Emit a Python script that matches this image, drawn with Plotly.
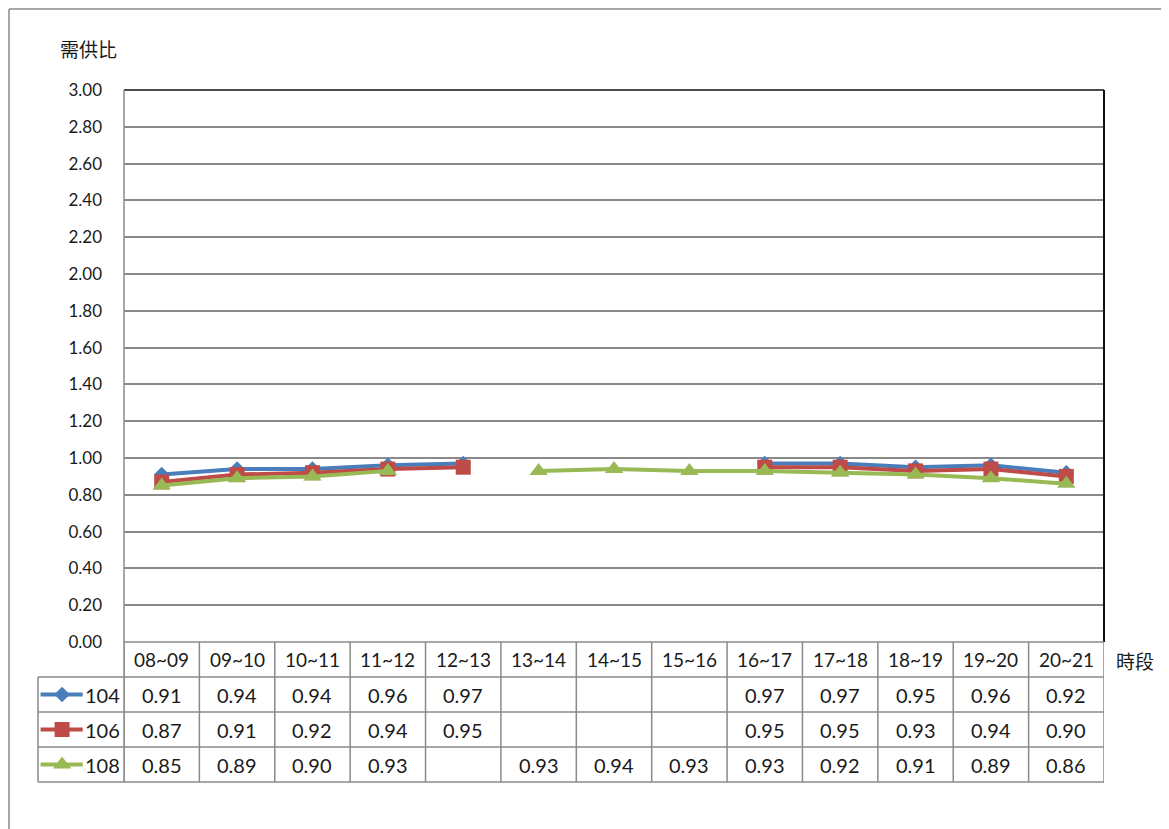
import plotly.graph_objects as go

# ---------------- data ----------------
categories = ["08~09", "09~10", "10~11", "11~12", "12~13", "13~14", "14~15",
              "15~16", "16~17", "17~18", "18~19", "19~20", "20~21"]
series_names = ["104", "106", "108"]
s104 = [0.91, 0.94, 0.94, 0.96, 0.97, None, None, None, 0.97, 0.97, 0.95, 0.96, 0.92]
s106 = [0.87, 0.91, 0.92, 0.94, 0.95, None, None, None, 0.95, 0.95, 0.93, 0.94, 0.90]
s108 = [0.85, 0.89, 0.90, 0.93, None, 0.93, 0.94, 0.93, 0.93, 0.92, 0.91, 0.89, 0.86]
y_ticks = [0.0, 0.2, 0.4, 0.6, 0.8, 1.0, 1.2, 1.4, 1.6, 1.8, 2.0, 2.2, 2.4, 2.6, 2.8, 3.0]
y_title = "需供比"
x_title = "時段"

series_values = [s104, s106, s108]
colors = ["#4A7EBB", "#BE4B48", "#98B954"]
symbols = ["diamond", "square", "triangle-up"]
msizes = [12, 15, 16]

W, H = 1169, 829
OFF = 8  # page body margin
FONT = "Lato, 'Noto Sans CJK TC', sans-serif"
CJK = "'Noto Sans CJK TC', sans-serif"
GRID = "#8A8A8A"
TXT = "#1a1a1a"


def px_x(p):
    return (p - OFF) / W


def px_y(p):
    return 1 - (p - OFF) / H


plot_l, plot_r, plot_t, plot_b = 124, 1104, 90, 642
row_h = 35
tab_l = 38
rows_y = [plot_b + row_h * (i + 1) for i in range(4)]  # bottoms of header + 3 rows

fig = go.Figure()

for name, vals, c, sym, ms in zip(series_names, series_values, colors, symbols, msizes):
    fig.add_trace(go.Scatter(
        x=categories, y=vals, name=name, mode="lines+markers",
        line=dict(color=c, width=4),
        marker=dict(symbol=sym, size=ms, color=c),
        connectgaps=False, showlegend=False, xaxis="x", yaxis="y",
    ))

# legend glyphs in the data table (second axis pair over the table's first column)
for i, (name, c, sym, ms) in enumerate(zip(series_names, colors, symbols, msizes)):
    fig.add_trace(go.Scatter(
        x=[0.03, 0.28, 0.52], y=[i + 0.5] * 3, mode="lines",
        line=dict(color=c, width=4), showlegend=False, hoverinfo="skip",
        xaxis="x2", yaxis="y2",
    ))
    fig.add_trace(go.Scatter(
        x=[0.28], y=[i + 0.5], mode="markers",
        marker=dict(symbol=sym, size=ms, color=c), showlegend=False,
        hoverinfo="skip", xaxis="x2", yaxis="y2",
    ))

shapes = []
annotations = []

# outer frame
shapes.append(dict(type="line", xref="paper", yref="paper", x0=px_x(9), x1=px_x(9),
                   y0=px_y(9), y1=px_y(H + 20), line=dict(color="#8A8A8A", width=1.5)))
shapes.append(dict(type="line", xref="paper", yref="paper", x0=px_x(9), x1=px_x(W + 20),
                   y0=px_y(9), y1=px_y(9), line=dict(color="#8A8A8A", width=1.5)))

# plot area border (top/right dark)
shapes.append(dict(type="line", xref="paper", yref="paper", x0=px_x(plot_l), x1=px_x(plot_r),
                   y0=px_y(plot_t), y1=px_y(plot_t), line=dict(color="#111111", width=1.5)))
shapes.append(dict(type="line", xref="paper", yref="paper", x0=px_x(plot_r), x1=px_x(plot_r),
                   y0=px_y(plot_t), y1=px_y(plot_b), line=dict(color="#111111", width=2)))

tcol = GRID
shapes.append(dict(type="line", xref="paper", yref="paper", x0=px_x(plot_l), x1=px_x(plot_r),
                   y0=px_y(plot_b), y1=px_y(plot_b), line=dict(color=tcol, width=1.5)))
for yb in rows_y:
    shapes.append(dict(type="line", xref="paper", yref="paper", x0=px_x(tab_l), x1=px_x(plot_r),
                       y0=px_y(yb), y1=px_y(yb), line=dict(color=tcol, width=1.5)))
shapes.append(dict(type="line", xref="paper", yref="paper", x0=px_x(tab_l), x1=px_x(tab_l),
                   y0=px_y(rows_y[0]), y1=px_y(rows_y[-1]), line=dict(color=tcol, width=1.5)))
for k in range(len(categories) + 1):
    shapes.append(dict(type="line", xref="x", yref="paper", x0=k - 0.5, x1=k - 0.5,
                       y0=px_y(plot_b), y1=px_y(rows_y[-1]), line=dict(color=tcol, width=1.5)))
shapes.append(dict(type="line", xref="paper", yref="paper", x0=px_x(plot_l), x1=px_x(plot_l),
                   y0=px_y(plot_t), y1=px_y(rows_y[-1]), line=dict(color=tcol, width=1.5)))

# header labels
for cat in categories:
    annotations.append(dict(x=cat, xref="x", y=px_y(plot_b + row_h / 2), yref="paper",
                            text=cat, showarrow=False, font=dict(family=FONT, size=19, color=TXT),
                            xanchor="center", yanchor="middle"))
# values
for r, vals in enumerate(series_values):
    yc = px_y(rows_y[r] + row_h / 2)
    for cat, v in zip(categories, vals):
        if v is None:
            continue
        annotations.append(dict(x=cat, xref="x", y=yc, yref="paper", text=f"{v:.2f}",
                                showarrow=False, font=dict(family=FONT, size=20, color=TXT),
                                xanchor="center", yanchor="middle"))
    annotations.append(dict(x=0.52, xref="x2", y=r + 0.5, yref="y2", text=series_names[r],
                            showarrow=False, font=dict(family=FONT, size=20, color=TXT),
                            xanchor="left", yanchor="middle"))

# axis titles
annotations.append(dict(x=px_x(88), y=px_y(49), xref="paper", yref="paper", text=y_title,
                        showarrow=False, font=dict(family=CJK, size=19, color=TXT),
                        xanchor="center", yanchor="middle"))
annotations.append(dict(x=px_x(1135), y=px_y(660), xref="paper", yref="paper", text=x_title,
                        showarrow=False, font=dict(family=CJK, size=19, color=TXT),
                        xanchor="center", yanchor="middle"))

fig.update_layout(
    width=W, height=H,
    margin=dict(l=0, r=0, t=0, b=0),
    paper_bgcolor="white", plot_bgcolor="white",
    xaxis=dict(domain=[px_x(plot_l), px_x(plot_r)], type="category",
               categoryorder="array", categoryarray=categories,
               range=[-0.5, len(categories) - 0.5], showticklabels=False,
               showgrid=False, zeroline=False, showline=False, ticks="", automargin=False),
    yaxis=dict(domain=[px_y(plot_b), px_y(plot_t)], range=[0, 3], tickvals=y_ticks,
               tickformat=".2f", showgrid=True, gridcolor=GRID, gridwidth=1.5,
               zeroline=False, showline=False, ticks="", ticklabelstandoff=21,
               tickfont=dict(family=FONT, size=17, color=TXT), automargin=False),
    xaxis2=dict(domain=[px_x(tab_l), px_x(plot_l)], range=[0, 1], visible=False,
                anchor="y2", fixedrange=True, automargin=False),
    yaxis2=dict(domain=[px_y(rows_y[-1]), px_y(rows_y[0])], range=[3, 0], visible=False,
                anchor="x2", fixedrange=True, automargin=False),
    shapes=shapes,
    annotations=annotations,
    hovermode=False,
)

fig.write_html("out.html")
